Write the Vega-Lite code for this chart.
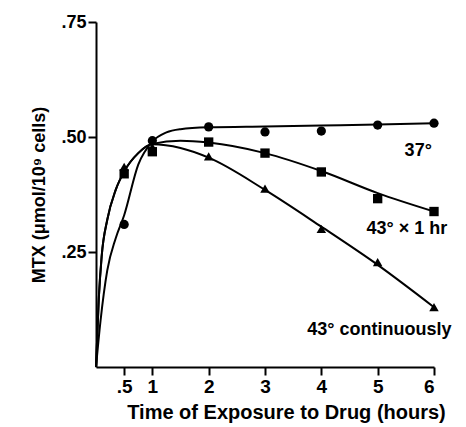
{
  "$schema": "https://vega.github.io/schema/vega-lite/v6.json",
  "width": 338,
  "height": 345,
  "autosize": "none",
  "padding": {"left": 96, "top": 22, "right": 32, "bottom": 60},
  "background": "white",
  "config": {
    "view": {"stroke": null},
    "font": "Liberation Sans",
    "axis": {"grid": false, "domainColor": "black", "domainWidth": 2, "tickColor": "black", "tickWidth": 2, "tickSize": 8,
      "labelFont": "Liberation Sans", "labelFontWeight": "bold", "labelFontSize": 19, "labelColor": "black",
      "titleFont": "Liberation Sans", "titleFontWeight": "bold", "titleFontSize": 20, "titleColor": "black"}
  },
  "datasets": {
    "fits": [
      {"series": "37", "x": 0, "y": 0},
      {"series": "37", "x": 0.08, "y": 0.1},
      {"series": "37", "x": 0.2, "y": 0.21},
      {"series": "37", "x": 0.35, "y": 0.28},
      {"series": "37", "x": 0.5, "y": 0.33},
      {"series": "37", "x": 0.75, "y": 0.44},
      {"series": "37", "x": 1, "y": 0.49},
      {"series": "37", "x": 1.25, "y": 0.51},
      {"series": "37", "x": 1.5, "y": 0.517},
      {"series": "37", "x": 2, "y": 0.521},
      {"series": "37", "x": 3, "y": 0.523},
      {"series": "37", "x": 4, "y": 0.525},
      {"series": "37", "x": 5, "y": 0.527},
      {"series": "37", "x": 6, "y": 0.53},
      {"series": "43x1", "x": 0, "y": 0},
      {"series": "43x1", "x": 0.05, "y": 0.15},
      {"series": "43x1", "x": 0.1, "y": 0.24},
      {"series": "43x1", "x": 0.2, "y": 0.32},
      {"series": "43x1", "x": 0.35, "y": 0.385},
      {"series": "43x1", "x": 0.5, "y": 0.425},
      {"series": "43x1", "x": 0.75, "y": 0.465},
      {"series": "43x1", "x": 1, "y": 0.485},
      {"series": "43x1", "x": 1.5, "y": 0.492},
      {"series": "43x1", "x": 2, "y": 0.488},
      {"series": "43x1", "x": 3, "y": 0.465},
      {"series": "43x1", "x": 4, "y": 0.426},
      {"series": "43x1", "x": 5, "y": 0.378},
      {"series": "43x1", "x": 6, "y": 0.338},
      {"series": "43c", "x": 0, "y": 0},
      {"series": "43c", "x": 0.05, "y": 0.15},
      {"series": "43c", "x": 0.1, "y": 0.24},
      {"series": "43c", "x": 0.2, "y": 0.32},
      {"series": "43c", "x": 0.35, "y": 0.385},
      {"series": "43c", "x": 0.5, "y": 0.425},
      {"series": "43c", "x": 0.75, "y": 0.465},
      {"series": "43c", "x": 1, "y": 0.484},
      {"series": "43c", "x": 1.5, "y": 0.476},
      {"series": "43c", "x": 2, "y": 0.455},
      {"series": "43c", "x": 3, "y": 0.385},
      {"series": "43c", "x": 4, "y": 0.305},
      {"series": "43c", "x": 5, "y": 0.222},
      {"series": "43c", "x": 6, "y": 0.13}
    ],
    "points": [
      {"series": "37", "x": 0.5, "y": 0.31},
      {"series": "37", "x": 1, "y": 0.492},
      {"series": "37", "x": 2, "y": 0.522},
      {"series": "37", "x": 3, "y": 0.511},
      {"series": "37", "x": 4, "y": 0.513},
      {"series": "37", "x": 5, "y": 0.526},
      {"series": "37", "x": 6, "y": 0.53},
      {"series": "43x1", "x": 0.5, "y": 0.42},
      {"series": "43x1", "x": 1, "y": 0.468},
      {"series": "43x1", "x": 2, "y": 0.489},
      {"series": "43x1", "x": 3, "y": 0.465},
      {"series": "43x1", "x": 4, "y": 0.424},
      {"series": "43x1", "x": 5, "y": 0.366},
      {"series": "43x1", "x": 6, "y": 0.338},
      {"series": "43c", "x": 0.5, "y": 0.435},
      {"series": "43c", "x": 1, "y": 0.478},
      {"series": "43c", "x": 2, "y": 0.458},
      {"series": "43c", "x": 3, "y": 0.388},
      {"series": "43c", "x": 4, "y": 0.3},
      {"series": "43c", "x": 5, "y": 0.228},
      {"series": "43c", "x": 6, "y": 0.13}
    ],
    "labels": [
      {"text": "37°", "x": 5.72, "y": 0.47},
      {"text": "43° × 1 hr", "x": 5.52, "y": 0.3},
      {"text": "43° continuously", "x": 5.03, "y": 0.08}
    ]
  },
  "encoding": {
    "x": {"field": "x", "type": "quantitative", "scale": {"domain": [0, 6], "nice": false, "zero": true},
      "axis": {"values": [0.5, 1, 2, 3, 4, 5, 6], "labelExpr": "datum.value == 0.5 ? '.5' : datum.label", "title": "Time of Exposure to Drug (hours)", "titleX": 190, "titleAlign": "center", "titlePadding": 6, "labelPadding": 2}},
    "y": {"field": "y", "type": "quantitative", "scale": {"domain": [0, 0.75], "nice": false},
      "axis": {"values": [0.25, 0.5, 0.75], "labelExpr": "replace(format(datum.value, '.2f'), '0.', '.')", "title": "MTX (μmol/10⁹ cells)", "titleFontSize": 18, "labelFontSize": 18, "titlePadding": 12, "labelPadding": 2}}
  },
  "layer": [
    {
      "data": {"name": "fits"},
      "mark": {"type": "line", "interpolate": "monotone", "color": "black", "strokeWidth": 2},
      "encoding": {"detail": {"field": "series"}}
    },
    {
      "data": {"name": "points"},
      "mark": {"type": "point", "filled": true, "color": "black", "opacity": 1},
      "encoding": {
        "shape": {"field": "series", "type": "nominal", "scale": {"domain": ["37", "43x1", "43c"], "range": ["circle", "square", "triangle-up"]}, "legend": null},
        "size": {"field": "series", "type": "nominal", "scale": {"domain": ["37", "43x1", "43c"], "range": [85, 90, 130]}, "legend": null}
      }
    },
    {
      "data": {"name": "labels"},
      "mark": {"type": "text", "font": "Liberation Sans", "fontWeight": "bold", "fontSize": 18, "color": "black", "align": "center", "baseline": "middle"},
      "encoding": {"text": {"field": "text"}}
    }
  ]
}
